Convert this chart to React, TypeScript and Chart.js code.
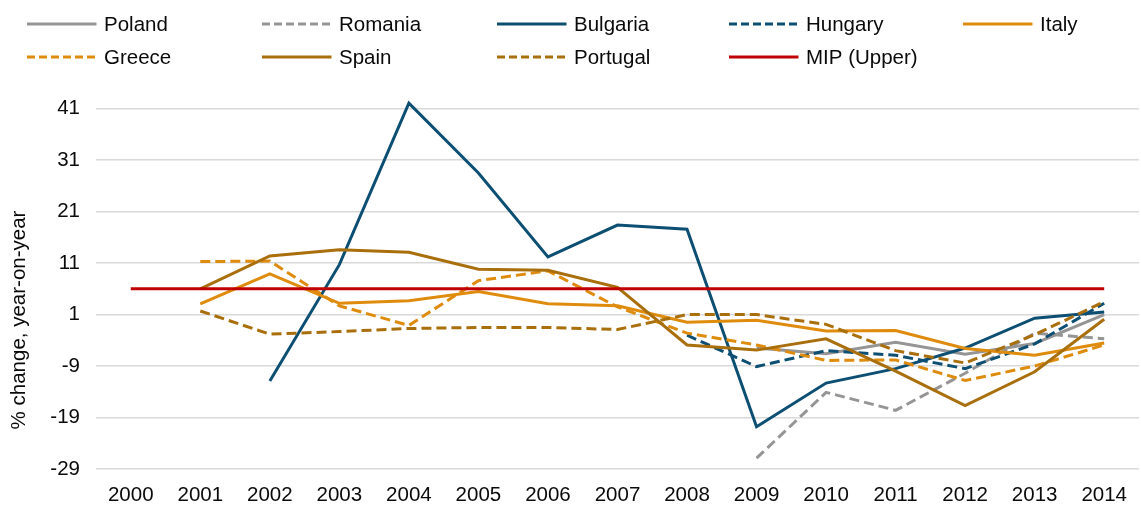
import React, { useEffect, useRef } from 'react';
import { Chart, registerables } from 'chart.js';

Chart.register(...registerables);

// ---------- data ----------
const YEARS = ['2000', '2001', '2002', '2003', '2004', '2005', '2006', '2007', '2008', '2009', '2010', '2011', '2012', '2013', '2014'];

const POLAND = [null, null, null, null, null, null, null, null, null, -5.5, -6.6, -4.4, -6.7, -4.6, 1.0];
const ROMANIA = [null, null, null, null, null, null, null, null, null, -26.9, -14.1, -17.6, -10.4, -2.6, -3.7];
const BULGARIA = [null, null, -11.9, 10.7, 42.1, 28.5, 12.2, 18.4, 17.6, -20.8, -12.3, -9.5, -5.5, 0.3, 1.5];
const HUNGARY = [null, null, null, null, null, null, null, null, -3.0, -9.1, -6.0, -6.9, -9.5, -4.7, 3.2];
const ITALY = [null, 3.1, 8.9, 3.2, 3.7, 5.5, 3.1, 2.7, -0.5, -0.1, -2.2, -2.1, -5.6, -6.9, -4.5];
const GREECE = [null, 11.3, 11.4, 2.7, -1.1, 7.6, 9.5, 2.5, -2.6, -4.9, -7.9, -7.8, -11.8, -9.0, -4.9];
const SPAIN = [null, 6.0, 12.4, 13.6, 13.1, 9.8, 9.6, 6.3, -4.9, -5.9, -3.7, -10.0, -16.7, -10.1, 0.1];
const PORTUGAL = [null, 1.7, -2.8, -2.3, -1.7, -1.5, -1.5, -1.9, 1.0, 1.0, -0.9, -6.0, -8.4, -2.9, 3.5];
const MIP_UPPER = [6, 6, 6, 6, 6, 6, 6, 6, 6, 6, 6, 6, 6, 6, 6];

const SERIES_NAMES = ['Poland', 'Romania', 'Bulgaria', 'Hungary', 'Italy', 'Greece', 'Spain', 'Portugal', 'MIP (Upper)'];
const SERIES_VALUES = [POLAND, ROMANIA, BULGARIA, HUNGARY, ITALY, GREECE, SPAIN, PORTUGAL, MIP_UPPER];

const Y_TICKS = [-29, -19, -9, 1, 11, 21, 31, 41];
const Y_MIN = -29;
const Y_MAX = 46;
const Y_TITLE = '% change, year-on-year';

// ---------- styles ----------
const GRAY = '#959595';
const BLUE = '#0d4f73';
const ORANGE = '#df8b0e';
const BROWN = '#a96f0c';
const RED = '#c00000';
const SERIES_STYLE = [
  { color: GRAY, dashed: false },
  { color: GRAY, dashed: true },
  { color: BLUE, dashed: false },
  { color: BLUE, dashed: true },
  { color: ORANGE, dashed: false },
  { color: ORANGE, dashed: true },
  { color: BROWN, dashed: false },
  { color: BROWN, dashed: true },
  { color: RED, dashed: false },
];

const FONT_FAMILY = '"Liberation Sans", Arial, Helvetica, sans-serif';
const FONT_SIZE = 20.5;
const TEXT_COLOR = '#0a0a0a';
const LEGEND_COLS = [27, 262, 497, 729, 963];
const LEGEND_ROWS = [24, 57];

const gridLegendPlugin = {
  id: 'gridLegend',
  afterDraw(chart: any) {
    const ctx = chart.ctx as CanvasRenderingContext2D;
    ctx.save();
    ctx.font = `${FONT_SIZE}px ${FONT_FAMILY}`;
    chart.data.datasets.forEach((ds: any, i: number) => {
      const x0 = LEGEND_COLS[i % 5];
      const y = LEGEND_ROWS[Math.floor(i / 5)];
      ctx.strokeStyle = ds.borderColor;
      ctx.lineWidth = 3;
      ctx.setLineDash(ds.borderDash && ds.borderDash.length ? [8, 4] : []);
      ctx.beginPath();
      ctx.moveTo(x0, y);
      ctx.lineTo(x0 + 69.5, y);
      ctx.stroke();
      ctx.setLineDash([]);
      ctx.fillStyle = TEXT_COLOR;
      ctx.textAlign = 'left';
      ctx.textBaseline = 'middle';
      ctx.fillText(ds.label, x0 + 77, y + 1);
    });
    // y axis title
    ctx.translate(25, 320);
    ctx.rotate(-Math.PI / 2);
    ctx.textAlign = 'center';
    ctx.textBaseline = 'alphabetic';
    ctx.fillStyle = TEXT_COLOR;
    ctx.fillText(Y_TITLE, 0, 0);
    ctx.restore();
  },
};

export default function App() {
  const canvasRef = useRef<HTMLCanvasElement | null>(null);

  useEffect(() => {
    if (!canvasRef.current) return;
    const datasets = SERIES_NAMES.map((name, i) => ({
      label: name,
      data: SERIES_VALUES[i],
      borderColor: SERIES_STYLE[i].color,
      backgroundColor: SERIES_STYLE[i].color,
      borderWidth: 3,
      borderDash: SERIES_STYLE[i].dashed ? [10, 5] : [],
      pointRadius: 0,
      pointHoverRadius: 0,
      tension: 0,
      fill: false,
      spanGaps: false,
      order: SERIES_NAMES.length - i,
    }));

    const chart = new Chart(canvasRef.current, {
      type: 'line',
      data: { labels: YEARS, datasets },
      plugins: [gridLegendPlugin],
      options: {
        responsive: false,
        animation: false,
        devicePixelRatio: 1,
        layout: { padding: { top: 83, left: 0, right: 0, bottom: 0 } },
        plugins: {
          legend: { display: false },
          tooltip: { enabled: false },
          title: { display: false },
        },
        scales: {
          x: {
            type: 'category',
            offset: true,
            grid: { display: false, drawTicks: false },
            border: { display: false },
            ticks: {
              color: TEXT_COLOR,
              font: { family: FONT_FAMILY, size: FONT_SIZE },
              padding: 14,
              maxRotation: 0,
              autoSkip: false,
            },
            afterFit(scale: any) {
              scale.height = 36;
            },
          },
          y: {
            min: Y_MIN,
            max: Y_MAX,
            grid: { color: '#d9d9d9', lineWidth: 1.5, drawTicks: false },
            border: { display: false },
            ticks: {
              color: TEXT_COLOR,
              font: { family: FONT_FAMILY, size: FONT_SIZE },
              padding: 16,
            },
            afterBuildTicks(scale: any) {
              scale.ticks = Y_TICKS.map((v) => ({ value: v }));
            },
            afterFit(scale: any) {
              scale.width = 96;
            },
          },
        },
      },
    });
    return () => chart.destroy();
  }, []);

  return (
    <div style={{ position: 'absolute', left: 0, top: 0, width: 1141, height: 505 }}>
      <canvas ref={canvasRef} width={1141} height={505} style={{ width: 1141, height: 505 }} />
    </div>
  );
}
